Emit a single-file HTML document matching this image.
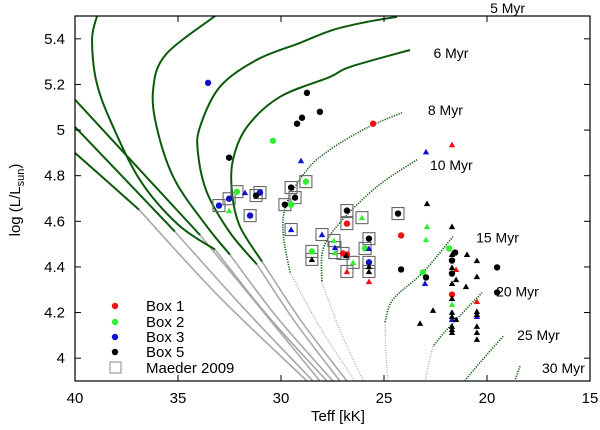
<!DOCTYPE html>
<html><head><meta charset="utf-8"><style>
html,body{margin:0;padding:0;background:#fff;}
svg{display:block;font-family:"Liberation Sans",Arial,sans-serif;}
</style></head><body>
<svg id="chart" width="600" height="430" viewBox="0 0 600 430" xmlns="http://www.w3.org/2000/svg">
<rect x="0" y="0" width="600" height="430" fill="#fff"/>
<g id="curves"></g>
<g id="points"></g>
<g id="axes"></g>
<g id="legend"></g>
</svg>
<script>
// Axis domains
const xTicks = [40, 35, 30, 25, 20, 15];
const yTicks = [4, 4.2, 4.4, 4.6, 4.8, 5, 5.2, 5.4];
const yTickLabels = ["4", "4.2", "4.4", "4.6", "4.8", "5", "5.2", "5.4"];

// Isochrones: green part [Teff, logL], gray continuation
const isoNames = ["diag-a","diag-b","diag-c","iso-c1","iso-c2","iso-5myr","iso-6myr","iso-8myr","iso-10myr","iso-15myr","iso-20myr","iso-25myr","iso-30myr"];
const isoGreen = [
 [[40,4.90],[36.89,4.651]],
 [[40,5.014],[35.15,4.555]],
 [[40,5.133],[33.93,4.54]],
 [[38.93,5.5],[39.17,5.40],[38.98,5.22],[38.30,5.045],[36.84,4.78],[35.0,4.586],[33.2,4.476]],
 [[33.2,5.5],[35.6,5.33],[36.21,5.176],[36.0,5.0],[35.15,4.78],[33.59,4.577],[32.48,4.454]],
 [[24.37,5.496],[25.83,5.474],[27.48,5.439],[29.08,5.382],[31.17,5.308],[32.96,5.19],[33.93,5.014],[34.03,4.90],[33.59,4.726],[32.48,4.551],[31.17,4.411]],
 [[23.74,5.351],[26.65,5.277],[27.62,5.233],[30.05,5.146],[31.65,5.014],[32.33,4.87],[32.38,4.726],[31.99,4.577],[30.92,4.424]],
 [[24.13,5.076],[25.83,5.01],[27.62,4.914],[28.74,4.826],[29.71,4.682],[29.90,4.551],[29.56,4.376]],
 [[23.40,4.87],[25.34,4.752],[27.14,4.594],[27.96,4.476],[28.01,4.332]],
 [[21.65,4.533],[23.11,4.376],[24.56,4.258],[24.95,4.157]],
 [[20.24,4.288],[21.94,4.126],[22.62,4.052]],
 [[19.22,4.096],[20.49,3.965],[21.07,3.903]],
 [[18.40,3.965],[18.64,3.903]]
];
const isoGrayEnd = [28.74,28.45,28.11,27.77,27.48,27.14,26.80,26.41,26.0,24.81,23.01,null,null];
const isoDotted = [false,false,false,false,false,false,false,true,true,true,true,true,true];
const ageLabels = ["5 Myr","6 Myr","8 Myr","10 Myr","15 Myr","20 Myr","25 Myr","30 Myr"];
const ageLabelT = [19.85,22.6,22.87,22.77,20.53,19.56,18.54,17.33];
const ageLabelL = [5.513,5.316,5.067,4.826,4.507,4.27,4.08,3.934];

// Data points
const box1Circ = [[25.53,5.028],[26.80,4.590],[24.17,4.538],[26.99,4.459],[26.80,4.455],[21.70,4.279]];
const box1Tri = [[21.70,4.936],[26.80,4.380],[25.73,4.336],[21.50,4.389],[20.49,4.249]];
const box2Circ = [[30.39,4.953],[32.14,4.730],[28.79,4.774],[28.50,4.468],[25.92,4.481],[21.84,4.481],[23.11,4.376],[29.51,4.673]];
const box2Tri = [[32.52,4.647],[26.07,4.616],[27.43,4.516],[27.38,4.463],[26.50,4.420],[22.91,4.577],[22.96,4.520],[21.70,4.236]];
const box3Circ = [[33.54,5.207],[31.02,4.726],[32.52,4.699],[33.01,4.669],[31.50,4.625],[25.73,4.420]];
const box3Tri = [[31.75,4.726],[29.03,4.866],[29.51,4.564],[28.01,4.542],[22.96,4.905],[27.38,4.485],[25.73,4.481],[23.01,4.328],[20.49,4.183],[21.70,4.170]];
const box5Circ = [[32.52,4.879],[29.22,5.028],[28.74,5.163],[28.11,5.080],[28.98,5.054],[31.21,4.713],[29.51,4.748],[29.32,4.704],[29.81,4.673],[26.80,4.647],[24.32,4.634],[25.73,4.524],[24.17,4.389],[21.55,4.463],[21.70,4.428],[19.51,4.398],[21.70,4.371],[22.96,4.354],[19.51,4.288]];
const box5Tri = [[28.50,4.433],[26.84,4.450],[25.73,4.402],[25.73,4.380],[22.91,4.678],[21.70,4.577],[21.70,4.455],[20.97,4.455],[20.49,4.428],[21.70,4.398],[21.50,4.345],[20.49,4.358],[21.70,4.328],[21.02,4.314],[21.70,4.262],[22.62,4.210],[20.49,4.205],[20.49,4.192],[21.70,4.201],[21.70,4.183],[21.50,4.170],[23.25,4.153],[20.49,4.140],[21.70,4.140],[21.70,4.126],[21.70,4.113],[20.49,4.113],[20.49,4.083]];
const maeder = [[32.14,4.730],[31.21,4.713],[31.02,4.726],[32.52,4.699],[33.01,4.669],[31.50,4.625],[29.51,4.748],[29.81,4.673],[29.32,4.704],[28.79,4.774],[29.51,4.564],[28.01,4.542],[28.50,4.468],[28.50,4.433],[26.80,4.647],[26.80,4.590],[26.07,4.616],[24.32,4.634],[27.43,4.516],[27.38,4.485],[27.38,4.463],[26.99,4.459],[26.50,4.420],[26.80,4.380],[25.73,4.524],[25.92,4.481],[25.73,4.420],[25.73,4.380]];
const legendLabels = ["Box 1","Box 2","Box 3","Box 5","Maeder 2009"];

const PL=75, PR=590, PT=16, PB=381;
const X0=40, X1=15, Y0=3.9, Y1=5.5;
function sx(t){return PL+(X0-t)/(X0-X1)*(PR-PL);}
function sy(l){return PB-(l-Y0)/(Y1-Y0)*(PB-PT);}
const NS="http://www.w3.org/2000/svg";
function mk(tag,attrs,parent){const e=document.createElementNS(NS,tag);for(const k in attrs)e.setAttribute(k,attrs[k]);parent.appendChild(e);return e;}

const defs=mk("defs",{},document.getElementById("chart"));
const cp=mk("clipPath",{id:"plotclip"},defs);
mk("rect",{x:PL,y:PT,width:PR-PL,height:PB-PT},cp);

const gC=document.getElementById("curves");
gC.setAttribute("clip-path","url(#plotclip)");
function smooth(pts){
  let d="M"+pts[0][0].toFixed(1)+","+pts[0][1].toFixed(1);
  for(let i=0;i<pts.length-1;i++){
    const p0=pts[Math.max(0,i-1)],p1=pts[i],p2=pts[i+1],p3=pts[Math.min(pts.length-1,i+2)];
    const c1=[p1[0]+(p2[0]-p0[0])/6,p1[1]+(p2[1]-p0[1])/6];
    const c2=[p2[0]-(p3[0]-p1[0])/6,p2[1]-(p3[1]-p1[1])/6];
    d+=" C"+c1[0].toFixed(1)+","+c1[1].toFixed(1)+" "+c2[0].toFixed(1)+","+c2[1].toFixed(1)+" "+p2[0].toFixed(1)+","+p2[1].toFixed(1);
  }
  return d;
}
isoGreen.forEach((g,i)=>{
  const pts=g.map(p=>[sx(p[0]),sy(p[1])]);
  const last=g[g.length-1];
  if(isoGrayEnd[i]!==null){
    const prev=g[Math.max(0,g.length-2)];
    const gx=[[last[0],last[1]],[(last[0]*0.55+isoGrayEnd[i]*0.45)+(last[0]-prev[0])*0.05,(last[1]*0.5+3.9*0.5)],[isoGrayEnd[i],3.9]];
    const gp=gx.map(p=>[sx(p[0]),sy(p[1])]);
    const e=mk("path",{d:smooth(gp),fill:"none",stroke:"#a8a8a8","stroke-width":isoDotted[i]?1.3:1.6,"stroke-dasharray":isoDotted[i]?"1 1.5":"none"},gC);
    
    
  }
  const e=mk("path",{d:smooth(pts),fill:"none",stroke:"#0b5a0b","stroke-width":isoDotted[i]?1.6:2,"stroke-dasharray":isoDotted[i]?"1.2 1.3":"none"},gC);
  
  
});
const svg=document.getElementById("chart");
ageLabels.forEach((s,i)=>{
  const t=mk("text",{x:sx(ageLabelT[i]),y:sy(ageLabelL[i]),"font-size":"14",fill:"#000"},svg);
  t.textContent=s;
  
  
});

const gP=document.getElementById("points");
function circ(p,col,parent){
  const e=mk("circle",{cx:sx(p[0]),cy:sy(p[1]),r:3.2,fill:col},parent);
  
  
}
function tri(p,col,parent){
  const x=sx(p[0]),y=sy(p[1]);
  const e=mk("polygon",{points:`${x-3.2},${y+2.6} ${x+3.2},${y+2.6} ${x},${y-3}`,fill:col},parent);
  
  
}
maeder.forEach(p=>{
  const e=mk("rect",{x:sx(p[0])-6,y:sy(p[1])-6,width:12,height:12,fill:"none",stroke:"#666","stroke-width":1.1},gP);
  
  
});
const cols=["#ee1111","#33ee33","#1111cc","#000000"];
[[box1Circ,box1Tri],[box2Circ,box2Tri],[box3Circ,box3Tri],[box5Circ,box5Tri]].forEach((s,i)=>{
  s[1].forEach(p=>tri(p,cols[i],gP));
  s[0].forEach(p=>circ(p,cols[i],gP));
});

const gA=document.getElementById("axes");
const fr=mk("rect",{x:PL,y:PT,width:PR-PL,height:PB-PT,fill:"none",stroke:"#000","stroke-width":1.2},gA);


xTicks.forEach(t=>{
  const x=sx(t);
  mk("line",{x1:x,y1:PB,x2:x,y2:PB-6,stroke:"#000"},gA);
  mk("line",{x1:x,y1:PT,x2:x,y2:PT+6,stroke:"#000"},gA);
  const l=mk("text",{x:x,y:PB+22,"font-size":"15","text-anchor":"middle"},gA);
  l.textContent=String(t);
  
  
});
yTicks.forEach((v,i)=>{
  const y=sy(v);
  mk("line",{x1:PL,y1:y,x2:PL+6,y2:y,stroke:"#000"},gA);
  mk("line",{x1:PR,y1:y,x2:PR-6,y2:y,stroke:"#000"},gA);
  const l=mk("text",{x:PL-10,y:y+5,"font-size":"15","text-anchor":"end"},gA);
  l.textContent=yTickLabels[i];
  
  
});
const xt=mk("text",{x:338,y:421,"font-size":"15","text-anchor":"middle"},gA);
xt.textContent="Teff [kK]";


const yt=mk("text",{x:0,y:0,"font-size":"15","text-anchor":"middle",transform:"translate(20,200) rotate(-90)"},gA);
yt.innerHTML='log (L/L<tspan font-size="11" dy="4">sun</tspan><tspan dy="-4">)</tspan>';



const gL=document.getElementById("legend");
const ly=[306,322,337,352,368];
legendLabels.forEach((s,i)=>{
  const g=mk("g",{},gL);
  
  
  if(i<4){mk("circle",{cx:115,cy:ly[i],r:3.2,fill:cols[i]},g);}
  else{mk("rect",{x:110,y:ly[i]-6,width:11,height:11,fill:"none",stroke:"#888","stroke-width":1},g);}
  const t=mk("text",{x:146,y:ly[i]+5,"font-size":"15"},g);
  t.textContent=s;
});
</script>
</body></html>
